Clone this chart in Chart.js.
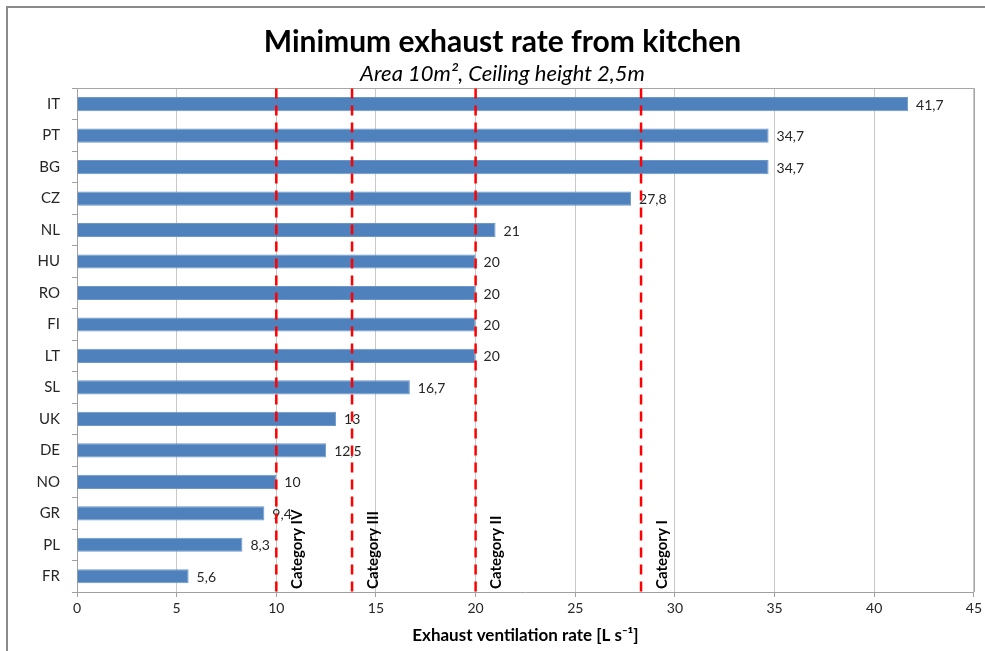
<!DOCTYPE html>
<html>
<head>
<meta charset="utf-8">
<script src="https://cdn.jsdelivr.net/npm/chart.js@4.4.0/dist/chart.umd.min.js"></script>
<style>
  html, body { margin: 0; padding: 0; background: #ffffff; }
  #wrap { width: 985px; height: 651px; position: relative; }
</style>
</head>
<body>
<div id="wrap"><canvas id="c" width="985" height="651"></canvas></div>
<script>
const countries = ["IT","PT","BG","CZ","NL","HU","RO","FI","LT","SL","UK","DE","NO","GR","PL","FR"];
const exhaustRates = [41.7, 34.7, 34.7, 27.8, 21, 20, 20, 20, 20, 16.7, 13, 12.5, 10, 9.4, 8.3, 5.6];
const categoryNames = ["Category IV", "Category III", "Category II", "Category I"];
const categoryLimits = [10, 13.8, 20, 28.3];
const xTicks = [0, 5, 10, 15, 20, 25, 30, 35, 40, 45];

const FONT = "Lato, 'Open Sans', sans-serif";

const fmt = v => String(v).replace('.', ',');

const overlayPlugin = {
  id: 'overlay',
  beforeDraw(chart) {
    const ctx = chart.ctx;
    ctx.save();
    ctx.strokeStyle = '#8a8a8a';
    ctx.lineWidth = 2;
    ctx.beginPath();
    ctx.moveTo(7, chart.height);
    ctx.lineTo(7, 7);
    ctx.lineTo(chart.width, 7);
    ctx.stroke();
    ctx.restore();
  },
  afterDatasetsDraw(chart) {
    const ctx = chart.ctx;
    const xs = chart.scales.x;
    const area = chart.chartArea;
    ctx.save();
    // plot border (top + right)
    ctx.strokeStyle = '#a6a6a6';
    ctx.lineWidth = 1;
    ctx.beginPath();
    ctx.moveTo(area.left, Math.round(area.top) + 0.5);
    ctx.lineTo(Math.round(area.right) + 0.5, Math.round(area.top) + 0.5);
    ctx.lineTo(Math.round(area.right) + 0.5, area.bottom);
    ctx.stroke();

    // data labels
    const meta = chart.getDatasetMeta(0);
    ctx.fillStyle = '#262626';
    ctx.font = "14px " + FONT;
    ctx.textAlign = 'left';
    ctx.textBaseline = 'middle';
    meta.data.forEach((bar, i) => {
      ctx.fillText(fmt(exhaustRates[i]), bar.x + 8, bar.y + 1);
    });

    // category lines
    categoryLimits.forEach((v, i) => {
      const x = xs.getPixelForValue(v);
      ctx.strokeStyle = '#ff0000';
      ctx.lineWidth = 2.5;
      ctx.setLineDash([10, 7]);
      ctx.beginPath();
      ctx.moveTo(x, area.top);
      ctx.lineTo(x, area.bottom);
      ctx.stroke();
      ctx.setLineDash([]);
      ctx.save();
      ctx.translate(x + 21, area.bottom - 3);
      ctx.rotate(-Math.PI / 2);
      ctx.fillStyle = '#000000';
      ctx.font = "bold 15px " + FONT;
      ctx.textAlign = 'left';
      ctx.textBaseline = 'middle';
      ctx.fillText(categoryNames[i], 0, 0);
      ctx.restore();
    });
    ctx.restore();
  }
};

new Chart(document.getElementById('c'), {
  type: 'bar',
  data: {
    labels: countries,
    datasets: [{
      data: exhaustRates,
      backgroundColor: '#4f81bd',
      borderColor: '#6d97cc',
      borderWidth: 1,
      barPercentage: 0.45,
      categoryPercentage: 1.0
    }]
  },
  options: {
    indexAxis: 'y',
    responsive: false,
    animation: false,
    devicePixelRatio: 1,
    layout: { padding: { left: 30, right: 10, top: 0, bottom: 0 } },
    plugins: {
      legend: { display: false },
      tooltip: { enabled: false },
      title: {
        display: true,
        text: 'Minimum exhaust rate from kitchen',
        color: '#000000',
        font: { family: FONT, size: 30, weight: 'bold', lineHeight: 1.2 },
        padding: { top: 24, bottom: 0 }
      },
      subtitle: {
        display: true,
        text: 'Area 10m², Ceiling height 2,5m',
        color: '#000000',
        font: { family: FONT, size: 22, style: 'italic', lineHeight: 1.2 },
        padding: { top: 1, bottom: 1 }
      }
    },
    scales: {
      x: {
        type: 'linear',
        min: 0,
        max: 45,
        afterFit(scale) { scale.height = 59; },
        afterBuildTicks(scale) { scale.ticks = xTicks.map(v => ({ value: v })); },
        ticks: {
          color: '#262626',
          font: { family: FONT, size: 14 },
          padding: 3
        },
        grid: {
          color: '#c8c8c8',
          lineWidth: 1,
          tickLength: 5,
          tickColor: '#a0a0a0',
          drawTicks: true
        },
        border: { color: '#a0a0a0', width: 1 },
        title: {
          display: true,
          text: 'Exhaust ventilation rate [L s⁻¹]',
          color: '#000000',
          font: { family: FONT, size: 17, weight: 'bold', lineHeight: 1.2 },
          padding: { top: 0, bottom: 5 }
        }
      },
      y: {
        afterFit(scale) { scale.width = 47; },
        ticks: {
          color: '#262626',
          font: { family: FONT, size: 15 },
          padding: 12
        },
        grid: {
          offset: true,
          drawOnChartArea: false,
          tickLength: 5,
          tickColor: '#a0a0a0'
        },
        border: { color: '#a0a0a0', width: 1 }
      }
    }
  },
  plugins: [overlayPlugin]
});
</script>
</body>
</html>
